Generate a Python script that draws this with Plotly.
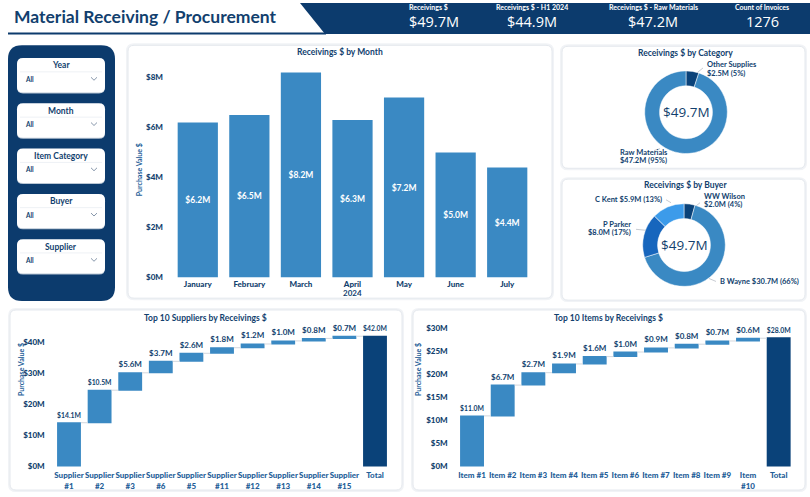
import plotly.graph_objects as go

W, H = 810, 497

# ---------------- data ----------------
months = ["January", "February", "March", "April", "May", "June", "July"]
month_values = [6.2, 6.5, 8.2, 6.3, 7.2, 5.0, 4.4]
month_ticks = [0, 2, 4, 6, 8]

category_labels = ["Other Supplies", "Raw Materials"]
category_values = [2.5, 47.2]

buyer_labels = ["WW Wilson", "B Wayne", "P Parker", "C Kent"]
buyer_values = [2.0, 30.7, 8.0, 5.9]

supplier_labels = ["Supplier<br>#1", "Supplier<br>#2", "Supplier<br>#3", "Supplier<br>#6",
                   "Supplier<br>#5", "Supplier<br>#11", "Supplier<br>#12", "Supplier<br>#13",
                   "Supplier<br>#14", "Supplier<br>#15", "Total"]
supplier_values = [14.1, 10.5, 5.6, 3.7, 2.6, 1.8, 1.2, 1.0, 0.8, 0.7]
supplier_total = 42.0
supplier_ticks = [0, 10, 20, 30, 40]

item_labels = ["Item #1", "Item #2", "Item #3", "Item #4", "Item #5", "Item #6",
               "Item #7", "Item #8", "Item #9", "Item<br>#10", "Total"]
item_values = [11.0, 6.7, 2.7, 1.9, 1.6, 1.0, 0.9, 0.8, 0.7, 0.6]
item_total = 28.0
item_ticks = [0, 5, 10, 15, 20, 25, 30]

kpi_labels = ["Receivings $", "Receivings $ - H1 2024", "Receivings $ - Raw Materials", "Count of Invoices"]
kpi_values = ["$49.7M", "$44.9M", "$47.2M", "1276"]
total_receivings = "$49.7M"

slicers = ["Year", "Month", "Item Category", "Buyer", "Supplier"]

# ---------------- styles ----------------
NAVY = "#0C3B6D"
TXT = "#123F6E"
BLUE = "#3A89C3"
DARK = "#0A4279"
AXT = "#245E98"
FONT = "Lato"


def px(x):
    return x / W


def py(y):
    return 1 - y / H


def rrect(x0, y0, x1, y1, r):
    pts = [
        f"M {px(x0 + r)},{py(y0)}",
        f"L {px(x1 - r)},{py(y0)}",
        f"Q {px(x1)},{py(y0)} {px(x1)},{py(y0 + r)}",
        f"L {px(x1)},{py(y1 - r)}",
        f"Q {px(x1)},{py(y1)} {px(x1 - r)},{py(y1)}",
        f"L {px(x0 + r)},{py(y1)}",
        f"Q {px(x0)},{py(y1)} {px(x0)},{py(y1 - r)}",
        f"L {px(x0)},{py(y0 + r)}",
        f"Q {px(x0)},{py(y0)} {px(x0 + r)},{py(y0)}",
        "Z",
    ]
    return " ".join(pts)


shapes = []
annotations = []


def add_rr(x0, y0, x1, y1, r, fill, line="rgba(0,0,0,0)", lw=0):
    shapes.append(dict(type="path", xref="paper", yref="paper", path=rrect(x0, y0, x1, y1, r),
                       fillcolor=fill, line=dict(color=line, width=lw), layer="below"))


def add_line(x0, y0, x1, y1, color, width=1):
    shapes.append(dict(type="line", xref="paper", yref="paper", x0=px(x0), y0=py(y0),
                       x1=px(x1), y1=py(y1), line=dict(color=color, width=width), layer="below"))


def text(x, y, s, size=8, color=TXT, bold=True, xanchor="center", family=FONT, yanchor="middle"):
    annotations.append(dict(x=px(x), y=py(y), xref="paper", yref="paper", text=(f"<b>{s}</b>" if bold else s),
                            showarrow=False, xanchor=xanchor, yanchor=yanchor,
                            font=dict(size=size, color=color, family=family)))


# header
shapes.append(dict(type="path", xref="paper", yref="paper",
                   path=f"M {px(300)},{py(0)} L {px(810)},{py(0)} L {px(810)},{py(31.5)} L {px(325)},{py(31.5)} Z",
                   fillcolor=NAVY, line=dict(width=0), layer="below"))
add_line(8, 31, 326, 31, NAVY, 2)
text(12, 14, "Material Receiving / Procurement", size=17.5, color=TXT, xanchor="left")

kpi_x = [407, 532, 653, 762]
for i, (lab, val) in enumerate(zip(kpi_labels, kpi_values)):
    anchor = "left" if i == 0 else "center"
    text(kpi_x[i], 4.5, lab, size=7, color="white", xanchor=anchor)
    text(kpi_x[i], 18.5, val, size=14.5, color="white", bold=False, xanchor=anchor, family="Open Sans")

# slicer panel
add_rr(8, 43, 115, 303, 14, NAVY)
for i, s in enumerate(slicers):
    top = 56 + i * 46
    add_rr(17, top + 1.5, 105, top + 36, 6, "#b9c6d4")
    add_rr(17, top, 105, top + 35, 6, "white")
    add_line(20, top + 14, 102, top + 14, "#eef1f5", 1)
    text(61, top + 7.5, s, size=8.5)
    text(23, top + 21.5, "All", size=6.5, xanchor="left")
    shapes.append(dict(type="path", xref="paper", yref="paper",
                       path=f"M {px(91)},{py(top + 19.5)} L {px(94)},{py(top + 22.5)} L {px(97)},{py(top + 19.5)}",
                       line=dict(color="#8797ab", width=1), layer="above"))

# cards
cards = [(128, 43, 552, 300), (562, 44, 805, 168), (562, 179, 805, 302),
         (10, 312, 402, 495), (413, 312, 805, 495)]
for (x0, y0, x1, y1) in cards:
    add_rr(x0 - 2, y0 - 2, x1 + 2, y1 + 2, 8, "#f1f3f6")
    add_rr(x0, y0, x1, y1, 6, "white", "#e4e8ed", 1)

# ---------------- month bars ----------------
m_scale = 25.4
m_range = 8.4
m_bottom = 279
fig = go.Figure()
fig.add_trace(go.Bar(
    x=months, y=month_values, marker=dict(color=BLUE, line=dict(width=0)),
    text=[f"<b>${v:.1f}M</b>" for v in month_values], textposition="inside", insidetextanchor="middle",
    textangle=0, textfont=dict(color="white", size=8.5, family=FONT), hoverinfo="skip",
    xaxis="x", yaxis="y"))
text(340, 50, "Receivings $ by Month", size=8.5)
text(352.5, 295, "2024", size=8)
annotations.append(dict(x=px(133), y=py(170), xref="paper", yref="paper", text="<b>Purchase Value $</b>",
                        textangle=-90, showarrow=False, font=dict(size=7, color=AXT, family=FONT)))

# ---------------- donuts ----------------
def donut(labels, values, colors, cx, cy, r):
    fig.add_trace(go.Pie(labels=labels, values=values, hole=0.64, sort=False, direction="clockwise",
                         rotation=0, marker=dict(colors=colors, line=dict(color="white", width=0.5)),
                         textinfo="none", hoverinfo="skip", showlegend=False,
                         domain=dict(x=[px(cx - r), px(cx + r)], y=[py(cy + r), py(cy - r)])))
    text(cx, cy, total_receivings, size=13.5, color=TXT, bold=False, family="Open Sans")


cat_total = sum(category_values)
donut(category_labels, category_values, [DARK, BLUE], 686, 111, 42)
text(685, 51, "Receivings $ by Category", size=8.5)
cp = [round(v / cat_total * 100) for v in category_values]
text(705, 63, category_labels[0], size=7.5, xanchor="left")
text(705, 71.5, f"${category_values[0]:.1f}M ({cp[0]}%)", size=7.5, xanchor="left")
text(618, 152, category_labels[1], size=7.5, xanchor="left")
text(618, 160.5, f"${category_values[1]:.1f}M ({cp[1]}%)", size=7.5, xanchor="left")
add_line(697, 71, 703, 66, "#c8ccd2")
add_line(654, 150, 660, 148, "#c8ccd2")

buy_total = sum(buyer_values)
bp = [round(v / buy_total * 100) for v in buyer_values]
donut(buyer_labels, buyer_values, [DARK, BLUE, "#1766BD", "#3C9BEA"], 684, 246, 42)
text(685, 185, "Receivings $ by Buyer", size=8.5)
text(702, 196.5, buyer_labels[0], size=7.5, xanchor="left")
text(702, 205, f"${buyer_values[0]:.1f}M ({bp[0]}%)", size=7.5, xanchor="left")
text(718, 283, f"{buyer_labels[1]} ${buyer_values[1]:.1f}M ({bp[1]}%)", size=7.5, xanchor="left")
text(633, 225, buyer_labels[2], size=7.5, xanchor="right")
text(633, 233.5, f"${buyer_values[2]:.1f}M ({bp[2]}%)", size=7.5, xanchor="right")
text(664, 200, f"{buyer_labels[3]} ${buyer_values[3]:.1f}M ({bp[3]}%)", size=7.5, xanchor="right")
add_line(694, 208, 700, 203, "#c8ccd2")
add_line(709, 280, 716, 283, "#c8ccd2")
add_line(636, 230, 646, 231, "#c8ccd2")
add_line(666, 200, 671, 203, "#c8ccd2")

# ---------------- waterfalls ----------------
def waterfall(labels, values, total, xa, ya):
    ys = values + [total]
    fig.add_trace(go.Waterfall(
        x=labels, y=ys, measure=["relative"] * len(values) + ["absolute"],
        text=[f"<b>${v:.1f}M</b>" for v in ys], textposition="outside", cliponaxis=False,
        textfont=dict(color=TXT, size=8, family=FONT),
        increasing=dict(marker=dict(color=BLUE)), totals=dict(marker=dict(color=DARK)),
        decreasing=dict(marker=dict(color=BLUE)),
        connector=dict(line=dict(color="#d3d7dd", width=1)), hoverinfo="skip",
        showlegend=False, xaxis=xa, yaxis=ya))


waterfall(supplier_labels, supplier_values, supplier_total, "x2", "y2")
waterfall(item_labels, item_values, item_total, "x3", "y3")
text(205, 320, "Top 10 Suppliers by Receivings $", size=8.5)
text(608, 320, "Top 10 Items by Receivings $", size=8.5)
for xx, yy in [(15, 402), (418, 402)]:
    annotations.append(dict(x=px(xx), y=py(yy), xref="paper", yref="paper", text="<b>Purchase Value $</b>",
                            textangle=-90, showarrow=False, font=dict(size=7, color=AXT, family=FONT)))

s_scale, s_range = 3.15, 44
i_scale, i_range = 4.67, 30.5
w_bottom = 471

axis_common = dict(showgrid=False, zeroline=False, showline=False, ticks="", fixedrange=True)
yfont = dict(size=8, color=TXT, family=FONT + " Black")
xfont = dict(size=8, color=AXT, family=FONT + " Black")

fig.update_layout(
    width=W, height=H, margin=dict(l=0, r=0, t=0, b=0),
    paper_bgcolor="white", plot_bgcolor="rgba(0,0,0,0)", showlegend=False,
    bargap=0.22, waterfallgap=0.22,
    font=dict(family=FONT, color=TXT),
    xaxis=dict(domain=[px(172), px(533)], anchor="y", tickfont=dict(size=8, color=TXT, family=FONT + " Black"),
               tickangle=0, **axis_common),
    yaxis=dict(domain=[py(m_bottom), py(m_bottom - m_range * m_scale)], range=[0, m_range], anchor="x",
               tickvals=month_ticks, ticktext=[f"${t}M" for t in month_ticks], tickfont=yfont, ticklabelstandoff=8,
               **axis_common),
    xaxis2=dict(domain=[px(53.7), px(390.3)], anchor="y2", tickfont=xfont, tickangle=0,
                ticklabelstandoff=3, **axis_common),
    yaxis2=dict(domain=[py(w_bottom), py(w_bottom - s_range * s_scale)], range=[0, s_range], anchor="x2",
                tickvals=supplier_ticks, ticktext=[f"${t}M" for t in supplier_ticks], tickfont=yfont,
                ticklabelstandoff=8, **axis_common),
    xaxis3=dict(domain=[px(456.7), px(794)], anchor="y3", tickfont=xfont, tickangle=0,
                ticklabelstandoff=3, **axis_common),
    yaxis3=dict(domain=[py(w_bottom), py(w_bottom - i_range * i_scale)], range=[0, i_range], anchor="x3",
                tickvals=item_ticks, ticktext=[f"${t}M" for t in item_ticks], tickfont=yfont,
                ticklabelstandoff=8, **axis_common),
    shapes=shapes, annotations=annotations,
)

fig.write_html("out.html", config={"displayModeBar": False})
